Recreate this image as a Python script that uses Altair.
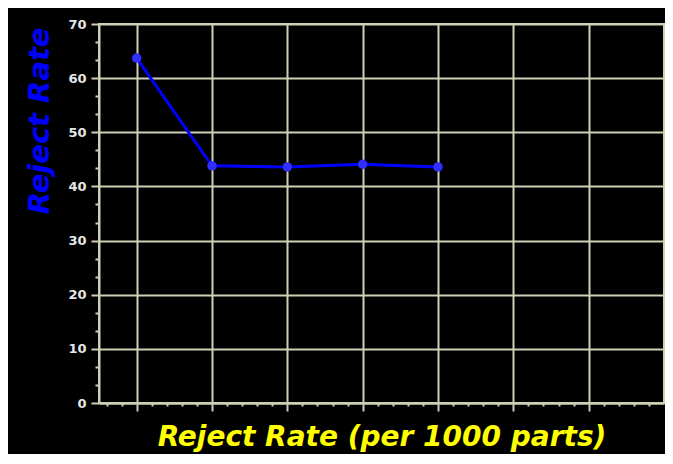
import altair as alt
import pandas as pd

# data
sample_idx = [1, 2, 3, 4, 5]
reject_rate = [63.7, 43.8, 43.6, 44.1, 43.6]

x_major = [1, 2, 3, 4, 5, 6, 7]
x_minor = [round(i * 0.2, 1) for i in range(3, 40) if i % 5]
y_major = [0, 10, 20, 30, 40, 50, 60, 70]
y_minor = [round(i * 10 / 3, 3) for i in range(1, 21) if i % 3]

df = pd.DataFrame({"idx": sample_idx, "rate": reject_rate})

GRID = "#cfcfb6"
FONT = "DejaVu Sans"

x_scale = alt.Scale(domain=[0.5, 8], nice=False, zero=False)
y_scale = alt.Scale(domain=[0, 70], nice=False)

line = alt.Chart(df).mark_line(color="#0000ff", strokeWidth=3).encode(
    x=alt.X(
        "idx:Q",
        scale=x_scale,
        axis=alt.Axis(
            orient="bottom",
            values=x_major,
            labels=False,
            grid=True,
            gridColor=GRID,
            gridWidth=2,
            gridOpacity=1,
            tickSize=8,
            tickColor=GRID,
            tickWidth=2,
            domainColor=GRID,
            domainWidth=2,
            title="Reject Rate (per 1000 parts)",
            titleColor="#ffff00",
            titleFont=FONT,
            titleFontSize=28,
            titleFontStyle="italic",
            titleFontWeight="bold",
            titleBaseline="alphabetic",
            titleY=42,
        ),
    ),
    y=alt.Y(
        "rate:Q",
        scale=y_scale,
        axis=alt.Axis(
            orient="left",
            values=y_major,
            grid=True,
            gridColor=GRID,
            gridWidth=2,
            gridOpacity=1,
            tickSize=8,
            tickColor=GRID,
            tickWidth=2,
            domainColor=GRID,
            domainWidth=2,
            labelFont=FONT,
            labelFontSize=13,
            labelFontWeight="bold",
            labelColor="#e6e6e6",
            labelPadding=5,
            title="Reject Rate",
            titleColor="#0000ff",
            titleFont=FONT,
            titleFontSize=29,
            titleFontStyle="italic",
            titleFontWeight="bold",
            titleAngle=270,
            titleAlign="right",
            titleBaseline="alphabetic",
            titleX=-51,
            titleY=3,
        ),
    ),
)

points = alt.Chart(df).mark_circle(size=90, color="#2f2fff", opacity=1).encode(
    x=alt.X(
        "idx:Q",
        scale=x_scale,
        axis=alt.Axis(
            orient="bottom",
            values=x_minor,
            labels=False,
            grid=False,
            domain=False,
            tickSize=3,
            tickColor=GRID,
            tickWidth=2,
            title=None,
        ),
    ),
    y=alt.Y(
        "rate:Q",
        scale=y_scale,
        axis=alt.Axis(
            orient="left",
            values=y_minor,
            labels=False,
            grid=False,
            domain=False,
            tickSize=4,
            tickColor=GRID,
            tickWidth=2,
            title=None,
        ),
    ),
)

chart = (
    alt.layer(line, points)
    .resolve_axis(x="independent", y="independent")
    .properties(
        width=565,
        height=379,
        background="#000000",
        autosize="none",
        padding={"left": 91, "top": 16, "right": 1, "bottom": 51},
    )
    .configure_view(stroke=GRID, strokeWidth=2)
)

chart.save("out.html", embed_options={"renderer": "svg", "actions": False})
